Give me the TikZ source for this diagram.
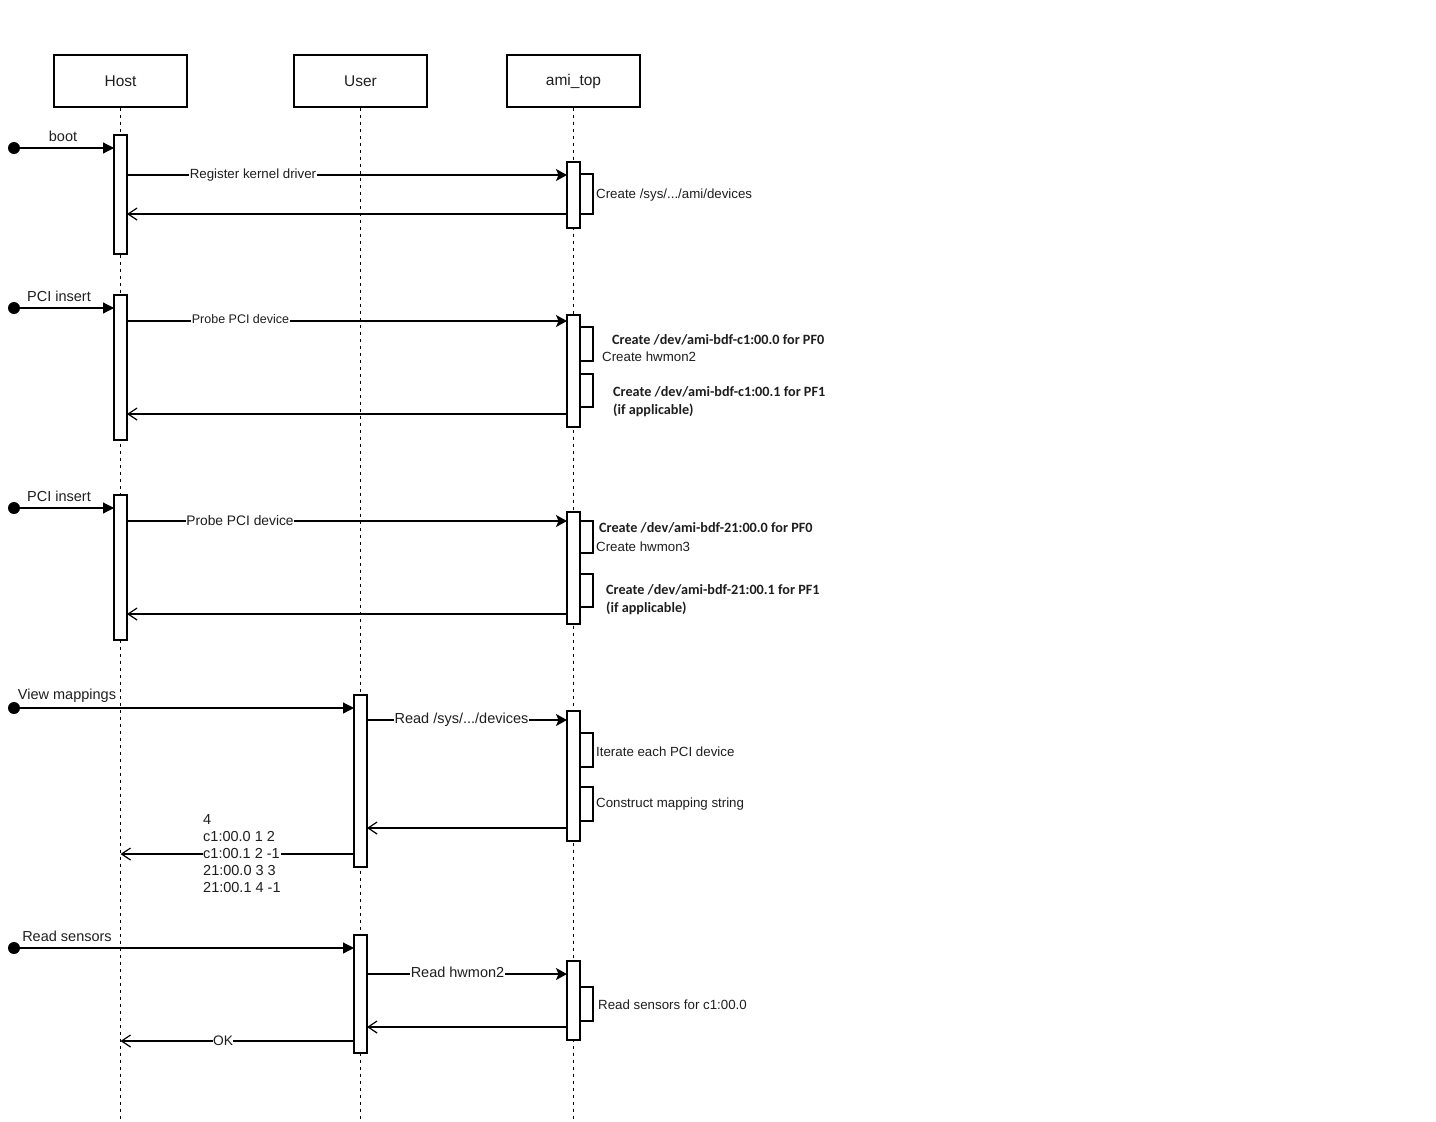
\documentclass[tikz,border=0pt]{standalone}
\usepackage{fontspec}
\setmainfont{Liberation Sans}
\newfontfamily\calfont{Carlito}
\usetikzlibrary{arrows.meta}
\definecolor{txt}{RGB}{30,30,30}
\begin{document}
\begin{tikzpicture}[x=1pt,y=-1pt,
 every node/.style={text=txt},
 head/.style={draw, line width=1.2pt, minimum width=133pt, minimum height=52pt, inner sep=0, font=\fontsize{15.5}{18}\selectfont},
 life/.style={dash pattern=on 3.5pt off 3.5pt, line width=1.1pt},
 bar/.style={draw, fill=white, line width=1.2pt, minimum width=13pt, inner sep=0},
 call/.style={line width=1.2pt, -{Stealth[length=11pt,width=12pt,inset=2.5pt]}},
 found/.style={line width=1.2pt, -{Triangle[length=11pt,width=11pt]}},
 ret/.style={line width=1.2pt, -{Straight Barb[length=9pt,width=12pt]}},
 lab/.style={fill=white, inner sep=0.5pt, font=\fontsize{14.5}{17}\selectfont},
 note/.style={anchor=west, inner sep=0, font=\fontsize{13.3}{16}\selectfont},
 cnote/.style={anchor=west, inner sep=0, font=\calfont\bfseries\fontsize{14.2}{17}\selectfont},
 selfloop/.style={line width=1.2pt},
 dot/.style={circle, fill=black, minimum size=12pt, inner sep=0}
]
\useasboundingbox (0,0) rectangle (1436,1122);

% heads
\node[head] (host) at (120.5,81) {Host};
\node[head] (user) at (360.5,81) {User};
\node[head] (ami) at (573.5,81) {ami\_top};

% lifelines
\coordinate (hostend) at (120.5,1120);
\coordinate (userend) at (360.5,1120);
\coordinate (amiend) at (573.5,1120);
\draw[life] (host.south) -- (hostend);
\draw[life] (user.south) -- (userend);
\draw[life] (ami.south) -- (amiend);

% activation bars
\node[bar, minimum height=119pt] (hb1) at (120.5,194.5) {};
\node[bar, minimum height=145pt] (hb2) at (120.5,367.5) {};
\node[bar, minimum height=145pt] (hb3) at (120.5,567.5) {};
\node[bar, minimum height=66pt] (ab1) at (573.5,195) {};
\node[bar, minimum height=112pt] (ab2) at (573.5,371) {};
\node[bar, minimum height=112pt] (ab3) at (573.5,568) {};
\node[bar, minimum height=172pt] (ub1) at (360.5,781) {};
\node[bar, minimum height=130pt] (ab4) at (573.5,776) {};
\node[bar, minimum height=118pt] (ub2) at (360.5,994) {};
\node[bar, minimum height=79pt] (ab5) at (573.5,1000.5) {};

% self loops
\draw[selfloop] (580,174) -- (593,174) -- (593,214) -- (580,214);
\draw[selfloop] (580,327) -- (593,327) -- (593,361) -- (580,361);
\draw[selfloop] (580,374) -- (593,374) -- (593,407) -- (580,407);
\draw[selfloop] (580,521) -- (593,521) -- (593,553) -- (580,553);
\draw[selfloop] (580,574) -- (593,574) -- (593,607) -- (580,607);
\draw[selfloop] (580,733) -- (593,733) -- (593,767) -- (580,767);
\draw[selfloop] (580,787) -- (593,787) -- (593,821) -- (580,821);
\draw[selfloop] (580,987) -- (593,987) -- (593,1021) -- (580,1021);

% found-message dots
\node[dot] (d1) at (14,148) {};
\node[dot] (d2) at (14,308) {};
\node[dot] (d3) at (14,508) {};
\node[dot] (d4) at (14,708) {};
\node[dot] (d5) at (14,948) {};

% endpoints
\coordinate (e1) at (114,148);
\coordinate (e2) at (114,308);
\coordinate (e3) at (114,508);
\coordinate (e4) at (354,708);
\coordinate (e5) at (354,948);

\coordinate (r1a) at (127,175); \coordinate (r1b) at (567,175);
\coordinate (r2a) at (567,214); \coordinate (r2b) at (127,214);
\coordinate (p1a) at (127,321); \coordinate (p1b) at (567,321);
\coordinate (p2a) at (567,414); \coordinate (p2b) at (127,414);
\coordinate (q1a) at (127,521); \coordinate (q1b) at (567,521);
\coordinate (q2a) at (567,614); \coordinate (q2b) at (127,614);
\coordinate (v1a) at (367,720); \coordinate (v1b) at (567,720);
\coordinate (v2a) at (567,828); \coordinate (v2b) at (367,828);
\coordinate (v3a) at (354,854); \coordinate (v3b) at (120.5,854);
\coordinate (s1a) at (367,974); \coordinate (s1b) at (567,974);
\coordinate (s2a) at (567,1027); \coordinate (s2b) at (367,1027);
\coordinate (s3a) at (354,1041); \coordinate (s3b) at (120.5,1041);

% found messages
\draw[found] (d1.center) -- (e1);
\draw[found] (d2.center) -- (e2);
\draw[found] (d3.center) -- (e3);
\draw[found] (d4.center) -- (e4);
\draw[found] (d5.center) -- (e5);
\node[lab, fill=none] (lboot) at (63,136) {boot};
\node[lab, fill=none] (lpci1) at (59,296) {PCI insert};
\node[lab, fill=none] (lpci2) at (59,496) {PCI insert};
\node[lab, fill=none] (lview) at (67,696) {View mappings};
\node[lab, fill=none] (lread) at (67,936) {Read sensors};

% calls and returns
\draw[call] (r1a) -- (r1b);
\node[lab, font=\fontsize{13.3}{16}\selectfont] (lreg) at (253,175) {Register kernel driver};
\draw[ret] (r2a) -- (r2b);

\draw[call] (p1a) -- (p1b);
\node[lab, font=\fontsize{12.5}{15}\selectfont] (lprobe1) at (240.5,319) {Probe PCI device};
\draw[ret] (p2a) -- (p2b);

\draw[call] (q1a) -- (q1b);
\node[lab, font=\fontsize{13.8}{16}\selectfont] (lprobe2) at (240,521) {Probe PCI device};
\draw[ret] (q2a) -- (q2b);

\draw[call] (v1a) -- (v1b);
\node[lab] (lrsys) at (461.5,720) {Read /sys/.../devices};
\draw[ret] (v2a) -- (v2b);
\draw[ret] (v3a) -- (v3b);
\node[lab, anchor=west, align=left, inner sep=0.5pt] (lmap) at (202.5,854) {4\\c1:00.0 1 2\\c1:00.1 2 -1\\21:00.0 3 3\\21:00.1 4 -1};

\draw[call] (s1a) -- (s1b);
\node[lab] (lhw) at (457.5,972) {Read hwmon2};
\draw[ret] (s2a) -- (s2b);
\draw[ret] (s3a) -- (s3b);
\node[lab, font=\fontsize{13.8}{16}\selectfont] (lok) at (223,1041) {OK};

% notes
\node[note] (n1) at (596,195) {Create /sys/.../ami/devices};
\node[cnote] (n2) at (612,340) {Create /dev/ami-bdf-c1:00.0 for PF0};
\node[note] (n3) at (602,357) {Create hwmon2};
\node[cnote] (n4) at (613,392) {Create /dev/ami-bdf-c1:00.1 for PF1};
\node[cnote] (n5) at (613,410) {(if applicable)};
\node[cnote] (n6) at (599,528) {Create /dev/ami-bdf-21:00.0 for PF0};
\node[note] (n7) at (596,547) {Create hwmon3};
\node[cnote] (n8) at (606,590) {Create /dev/ami-bdf-21:00.1 for PF1};
\node[cnote] (n9) at (606,608) {(if applicable)};
\node[note] (n10) at (596,752) {Iterate each PCI device};
\node[note] (n11) at (596,804) {Construct mapping string};
\node[note] (n12) at (598,1005) {Read sensors for c1:00.0};
\end{tikzpicture}
\end{document}
